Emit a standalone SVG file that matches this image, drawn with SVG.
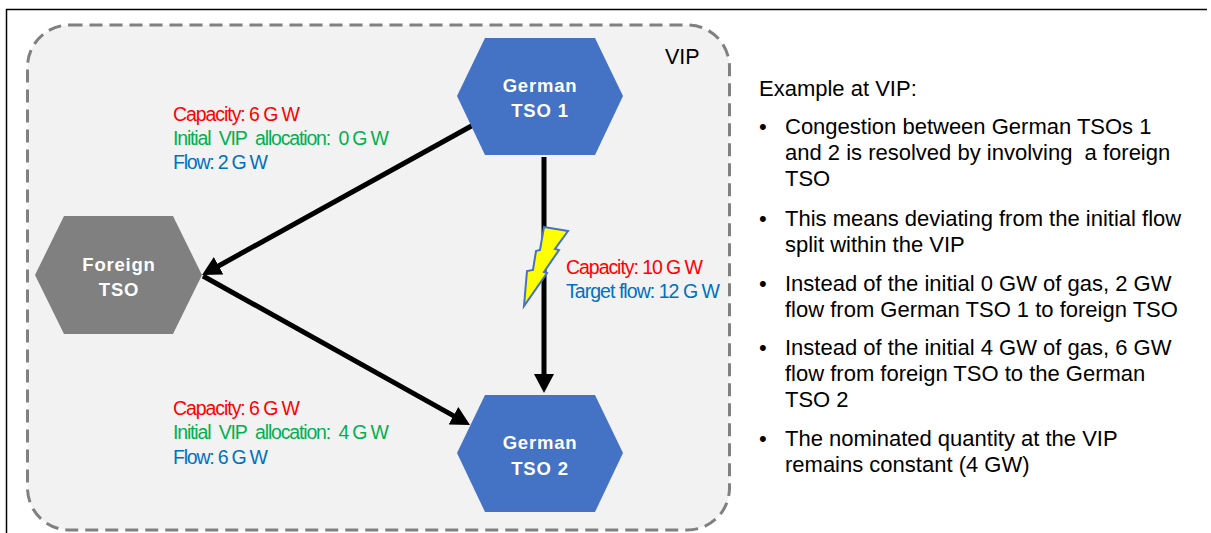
<svg xmlns="http://www.w3.org/2000/svg" width="1211" height="533" viewBox="0 0 1211 533">
  <style>
    .frame { fill: none; stroke: #000; stroke-width: 1.5; }
    .vip { fill: #f2f2f2; stroke: #808080; stroke-width: 3; stroke-dasharray: 13 7; }
    .hex-de { fill: #4472c4; }
    .hex-fo { fill: #808080; }
    .hex-text { font-family: "Liberation Sans", Arial, sans-serif; font-weight: bold; font-size: 18.5px; fill: #fff; text-anchor: middle; letter-spacing: 0.8px; }
    .lbl { font-family: "Liberation Sans", Arial, sans-serif; font-size: 19.5px; }
    .red { fill: #ff0000; }
    .green { fill: #00b050; }
    .blue { fill: #0070c0; }
    .body { font-family: "Liberation Sans", Arial, sans-serif; font-size: 22px; fill: #000; }
    .conn { stroke: #000; stroke-width: 5; fill: none; }
    .bolt { fill: #ffff00; stroke: #4472c4; stroke-width: 2; stroke-linejoin: miter; }
  </style>
  <defs>
    <marker id="arrow" markerUnits="userSpaceOnUse" markerWidth="19" markerHeight="20" viewBox="0 0 19 20" refX="9" refY="10" orient="auto">
      <path d="M0,0 L19,10 L0,20 z" fill="#000"/>
    </marker>
  </defs>

  <path class="frame" d="M6.5,533 V9.5 H1207"/>

  <g id="vip-area">
    <rect class="vip" x="27.5" y="25" width="702" height="505" rx="42" ry="42"/>
    <text class="lbl" x="665" y="64" style="font-size:21.5px" fill="#000">VIP</text>
  </g>

  <g id="connectors">
    <line class="conn" x1="475" y1="124" x2="210.8" y2="270.2" marker-end="url(#arrow)"/>
    <line class="conn" x1="203" y1="276" x2="461.3" y2="420.1" marker-end="url(#arrow)"/>
    <line class="conn" x1="544" y1="157" x2="544" y2="383" marker-end="url(#arrow)"/>
  </g>

  <g id="german-tso-1">
    <polygon class="hex-de" points="457,96 485,38 595,38 623,96 595,155 485,155"/>
    <text class="hex-text" x="540" y="92">German</text>
    <text class="hex-text" x="540" y="117">TSO 1</text>
  </g>

  <g id="foreign-tso">
    <polygon class="hex-fo" points="35,275 64,216 173,216 202,275 173,334 64,334"/>
    <text class="hex-text" x="119" y="271">Foreign</text>
    <text class="hex-text" x="119" y="296">TSO</text>
  </g>

  <g id="german-tso-2">
    <polygon class="hex-de" points="457,453 485,395 595,395 623,453 595,512 485,512"/>
    <text class="hex-text" x="540" y="449">German</text>
    <text class="hex-text" x="540" y="475">TSO 2</text>
  </g>

  <g id="congestion-bolt">
    <polygon class="bolt" points="544,227 568,231 555,249 559,250 544,272 547,273 524,306 527,271 533,270 536,251 540,250"/>
  </g>

  <g id="label-tso1-foreign">
    <text class="lbl red" x="173" y="121" textLength="127" lengthAdjust="spacing">Capacity: 6 G W</text>
    <text class="lbl green" x="173" y="145" textLength="216" lengthAdjust="spacing">Initial&#160; VIP&#160; allocation:&#160; 0 G W</text>
    <text class="lbl blue" x="173" y="169" textLength="95" lengthAdjust="spacing">Flow: 2 G W</text>
  </g>

  <g id="label-foreign-tso2">
    <text class="lbl red" x="173" y="415" textLength="127" lengthAdjust="spacing">Capacity: 6 G W</text>
    <text class="lbl green" x="173" y="439" textLength="216" lengthAdjust="spacing">Initial&#160; VIP&#160; allocation:&#160; 4 G W</text>
    <text class="lbl blue" x="173" y="464" textLength="95" lengthAdjust="spacing">Flow: 6 G W</text>
  </g>

  <g id="label-tso1-tso2">
    <text class="lbl red" x="566" y="274" textLength="137" lengthAdjust="spacing">Capacity: 10 G W</text>
    <text class="lbl blue" x="566" y="298" textLength="154" lengthAdjust="spacing">Target flow: 12 G W</text>
  </g>

  <g id="explanation">
    <text class="body" x="759" y="96">Example at VIP:</text>
    <text class="body" x="759" y="134">•</text>
    <text class="body" x="785" y="134">Congestion between German TSOs 1</text>
    <text class="body" x="785" y="160">and 2 is resolved by involving&#160; a foreign</text>
    <text class="body" x="785" y="186">TSO</text>
    <text class="body" x="759" y="226">•</text>
    <text class="body" x="785" y="226">This means deviating from the initial flow</text>
    <text class="body" x="785" y="252">split within the VIP</text>
    <text class="body" x="759" y="291">•</text>
    <text class="body" x="785" y="291">Instead of the initial 0 GW of gas, 2 GW</text>
    <text class="body" x="785" y="317">flow from German TSO 1 to foreign TSO</text>
    <text class="body" x="759" y="355">•</text>
    <text class="body" x="785" y="355">Instead of the initial 4 GW of gas, 6 GW</text>
    <text class="body" x="785" y="381">flow from foreign TSO to the German</text>
    <text class="body" x="785" y="407">TSO 2</text>
    <text class="body" x="759" y="446">•</text>
    <text class="body" x="785" y="446">The nominated quantity at the VIP</text>
    <text class="body" x="785" y="472">remains constant (4 GW)</text>
  </g>
</svg>
